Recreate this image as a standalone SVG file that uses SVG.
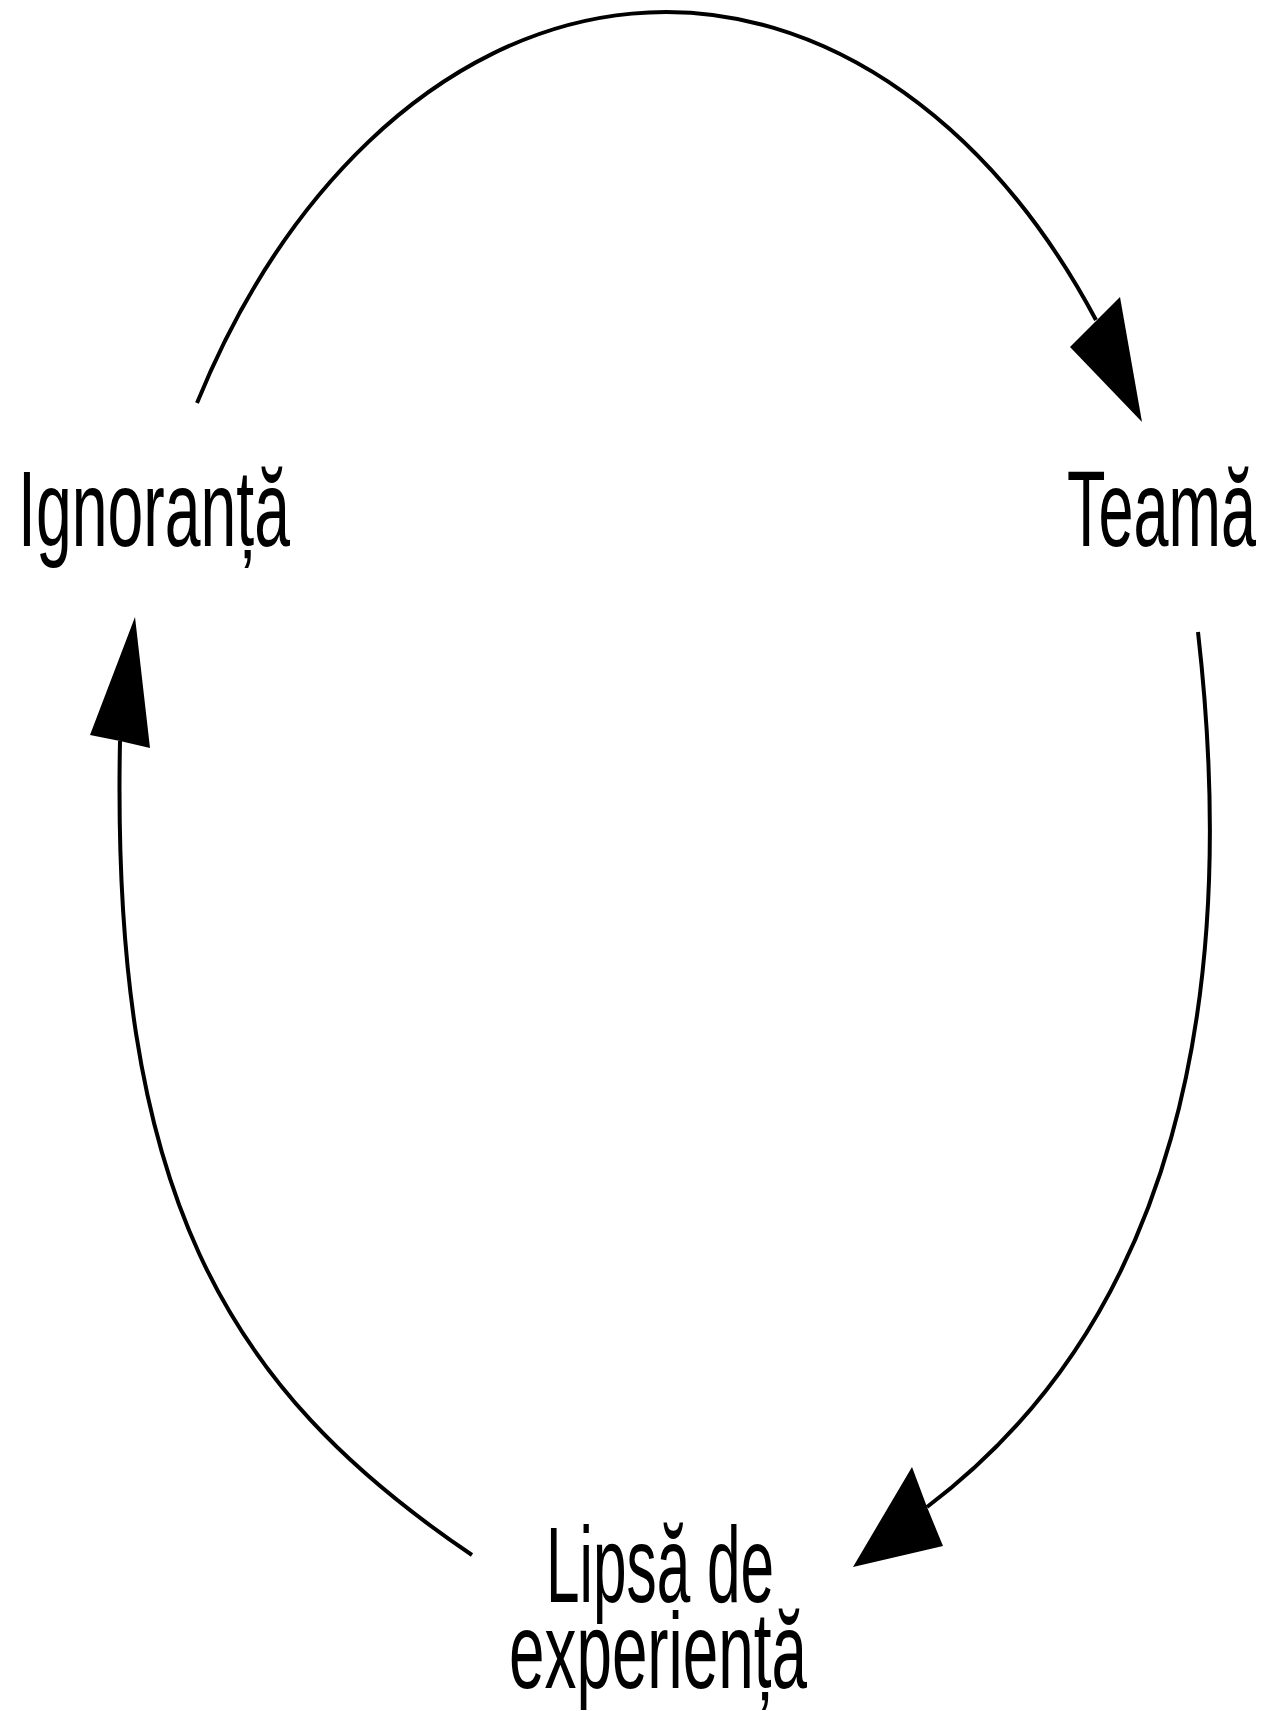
<svg xmlns="http://www.w3.org/2000/svg" width="1265" height="1711" viewBox="0 0 1265 1711">
<style>
.lbl{font-family:"Liberation Sans",Arial,sans-serif;font-size:108px;fill:#000}
.arc{fill:none;stroke:#000;stroke-width:4}
.head{fill:#000;stroke:none}
</style>
<rect width="1265" height="1711" fill="#fff"/>
<g id="connectors">
<path class="arc" d="M197,403 A548,810 0 0 1 1096,320"/>
<polygon class="head" points="1142,422 1120,297 1095,322 1070,347"/>
<path class="arc" d="M1198,632 C1240,1000 1175,1320 927,1507"/>
<polygon class="head" points="853,1567 912,1467 927,1507 943,1546"/>
<path class="arc" d="M472,1555 C223,1387 111,1191 120,741"/>
<polygon class="head" points="135,617 90,735 120,741 150,748"/>
</g>
<g id="node-ignoranta">
<text class="lbl" x="18" y="546" textLength="272" lengthAdjust="spacingAndGlyphs">Ignoranță</text>
</g>
<g id="node-teama">
<text class="lbl" x="1067" y="546" textLength="189" lengthAdjust="spacingAndGlyphs">Teamă</text>
</g>
<g id="node-lipsa">
<text class="lbl" x="546" y="1602" textLength="228" lengthAdjust="spacingAndGlyphs">Lipsă de</text>
<text class="lbl" x="509" y="1688" textLength="298" lengthAdjust="spacingAndGlyphs">experiență</text>
</g>
</svg>
